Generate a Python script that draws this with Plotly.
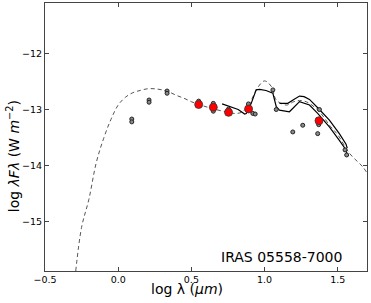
import plotly.graph_objects as go

# Model SED (dashed)
model_x = [-0.29, -0.25, -0.2, -0.15, -0.1, -0.05, 0.0, 0.05, 0.1, 0.15, 0.2, 0.25, 0.3, 0.35,
           0.4, 0.45, 0.5, 0.55, 0.6, 0.65, 0.7, 0.75, 0.8, 0.85, 0.9, 0.95, 1.0, 1.05,
           1.08, 1.15, 1.2, 1.25, 1.3, 1.375, 1.45, 1.5, 1.58, 1.67, 1.7]
model_y = [-15.88, -15.1, -14.6, -13.95, -13.52, -13.18, -12.92, -12.78, -12.70, -12.66, -12.63,
           -12.63, -12.65, -12.69, -12.75, -12.80, -12.86, -12.91, -12.95, -12.99, -13.02,
           -13.05, -13.07, -13.04, -12.88, -12.62, -12.49, -12.60, -12.83, -12.92, -12.86,
           -12.84, -12.88, -13.04, -13.30, -13.45, -13.78, -14.02, -14.13]

# Spectrum 1 (lower solid line)
spec1_x = [0.71, 0.761, 0.82, 0.864, 0.875, 0.909, 0.943, 0.966, 1.01, 1.057, 1.08, 1.102,
           1.17, 1.239, 1.307, 1.363, 1.443, 1.511, 1.557, 1.565]
spec1_y = [-12.90, -12.95, -13.0, -13.08, -13.07, -12.89, -12.65, -12.64, -12.66, -12.71,
           -12.95, -13.01, -13.04, -12.86, -12.92, -13.07, -13.31, -13.55, -13.72, -13.82]

# Spectrum 2 (upper solid line)
spec2_x = [1.102, 1.159, 1.2, 1.239, 1.27, 1.307, 1.375, 1.443, 1.511, 1.557, 1.565]
spec2_y = [-12.89, -12.89, -12.82, -12.76, -12.77, -12.82, -13.00, -13.19, -13.43, -13.62, -13.69]

# Photometry (grey)
phot_x = [0.093, 0.093, 0.211, 0.211, 0.334, 0.334, 0.55, 0.65, 0.65, 0.754, 0.89,
          0.92, 0.936, 1.057, 1.08, 1.193, 1.261, 1.363, 1.375, 1.37, 1.55, 1.561]
phot_y = [-13.17, -13.22, -12.83, -12.87, -12.67, -12.71, -12.85, -12.89, -13.03, -12.99,
          -12.90, -13.07, -13.08, -12.65, -13.00, -13.40, -13.28, -13.43, -13.00, -13.27,
          -13.72, -13.81]

# Photometry (red)
red_x = [0.55, 0.65, 0.754, 0.891, 1.372]
red_y = [-12.91, -12.96, -13.05, -12.99, -13.20]

fig = go.Figure()
fig.add_trace(go.Scatter(x=model_x, y=model_y, mode="lines", line=dict(color="#555555", width=1, dash="4px,3px"),
                         line_shape="spline", showlegend=False))
fig.add_trace(go.Scatter(x=spec1_x, y=spec1_y, mode="lines", line=dict(color="black", width=1.2),
                         showlegend=False))
fig.add_trace(go.Scatter(x=spec2_x, y=spec2_y, mode="lines", line=dict(color="black", width=1.2),
                         showlegend=False))
fig.add_trace(go.Scatter(x=phot_x, y=phot_y, mode="markers",
                         marker=dict(size=4, color="#8a8a8a", line=dict(color="#222222", width=1)),
                         showlegend=False))
fig.add_trace(go.Scatter(x=red_x, y=red_y, mode="markers",
                         marker=dict(size=8, color="red", line=dict(color="#333333", width=0.8)),
                         showlegend=False))

axis_common = dict(showgrid=False, zeroline=False, showline=True, linecolor="#444444", linewidth=1,
                   mirror="allticks", ticks="inside", ticklen=4, tickcolor="#444444",
                   tickfont=dict(family="DejaVu Sans", size=9.5, color="black"))
fig.update_xaxes(range=[-0.5, 1.7], tickvals=[-0.5, 0.0, 0.5, 1.0, 1.5],
                 ticktext=["−0.5", "0.0", "0.5", "1.0", "1.5"], **axis_common)
fig.update_yaxes(range=[-15.88, -11.1], tickvals=[-15, -14, -13, -12],
                 ticktext=["−15", "−14", "−13", "−12"], **axis_common)

fig.add_annotation(text="log λ (<i>μm</i>)", xref="paper", yref="paper", x=0.44, y=-0.067,
                   showarrow=False, font=dict(family="DejaVu Sans", size=14, color="black"),
                   xanchor="center", yanchor="middle")
fig.add_annotation(text="log <i>λFλ</i> (W <i>m</i><sup>−2</sup>)", xref="paper", yref="paper",
                   x=-0.101, y=0.43, textangle=-90, showarrow=False,
                   font=dict(family="DejaVu Sans", size=14, color="black"),
                   xanchor="center", yanchor="middle")
fig.add_annotation(text="IRAS 05558-7000", xref="paper", yref="paper", x=0.733, y=0.053,
                   showarrow=False, font=dict(family="DejaVu Sans", size=14, color="black"),
                   xanchor="center", yanchor="middle")

fig.update_layout(width=371, height=303, margin=dict(l=45, r=4, t=3, b=32),
                  plot_bgcolor="white", paper_bgcolor="white")
fig.write_html("out.html", config={"displayModeBar": False},
               post_script="document.body.style.margin='0';document.body.style.padding='0';")
